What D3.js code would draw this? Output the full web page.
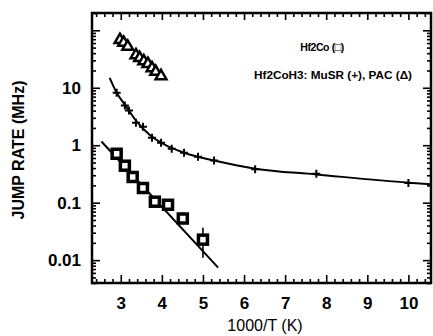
<!DOCTYPE html>
<html>
<head>
<meta charset="utf-8">
<script src="https://cdn.jsdelivr.net/npm/d3@7"></script>
<style>
  body { margin: 0; background: #fff; }
  text { font-family: "Liberation Sans", "DejaVu Sans", Arial, sans-serif; fill: #000; }
</style>
</head>
<body>
<div id="chart"></div>
<script>
// Hf2CoH3 PAC (triangles)
const pacX = [2.98, 3.07, 3.17, 3.37, 3.46, 3.56, 3.66, 3.76, 3.85, 3.98];
const pacY = [68, 61, 52, 37, 33, 29, 26, 22, 19, 16];

// Hf2CoH3 MuSR (+)
const musrX = [2.90, 3.10, 3.20, 3.37, 3.54, 3.76, 3.98, 4.24, 4.54, 4.88, 5.27, 6.27, 7.76, 10.0];
const musrY = [8.2, 4.9, 4.0, 2.47, 2.1, 1.35, 1.1, 0.87, 0.74, 0.63, 0.54, 0.38, 0.32, 0.22];

// MuSR fit curve
const musrFitX = [2.73, 2.90, 3.10, 3.37, 3.70, 4.07, 4.54, 5.27, 6.27, 7.76, 10.0, 10.55];
const musrFitY = [14.9, 8.2, 5.1, 2.67, 1.52, 1.02, 0.74, 0.54, 0.39, 0.31, 0.223, 0.21];

// Hf2Co squares
const hfcoX = [2.90, 3.10, 3.29, 3.54, 3.83, 4.15, 4.51, 5.00];
const hfcoY = [0.71, 0.44, 0.28, 0.18, 0.104, 0.092, 0.053, 0.0227];
// error bars (only where visible)
const errX = [4.51, 5.00];
const errLo = [0.042, 0.011];
const errHi = [0.068, 0.0367];

// Hf2Co Arrhenius line
const hfcoFitX = [2.53, 5.37];
const hfcoFitY = [1.16, 0.0074];

const xMajor = [3, 4, 5, 6, 7, 8, 9, 10];
const yMajor = [0.01, 0.1, 1, 10, 100];
const yLabels = ["0.01", "0.1", "1", "10", ""];

const W = 433, H = 336;
const mLeft = 92, mRight = 431, mTop = 13, mBottom = 283;

const svg = d3.select('#chart').append('svg')
  .attr('width', W).attr('height', H);

const x = d3.scaleLinear().domain([2.3, 10.55]).range([mLeft, mRight]);
const y = d3.scaleLog().domain([0.004, 200]).range([mBottom, mTop]);

const xMinor = d3.range(12, 53).map(d => d / 5).filter(d => !Number.isInteger(d) && d >= 2.3 && d <= 10.55);
const yMinor = [];
[0.001, 0.01, 0.1, 1, 10, 100].forEach(dec => {
  for (let m = 2; m <= 9; m++) {
    const v = dec * m;
    if (v >= 0.004 && v <= 200) yMinor.push(v);
  }
});

function styleAxis(g) {
  g.select('.domain').remove();
  g.selectAll('line').attr('stroke', '#000').attr('stroke-width', 1.6);
  g.selectAll('text').style('font-size', '17px').style('font-weight', 'bold');
}

// bottom
svg.append('g').attr('transform', `translate(0,${mBottom})`)
  .call(d3.axisBottom(x).tickValues(xMajor).tickFormat(d3.format('d')).tickSize(-8).tickPadding(14))
  .call(styleAxis);
svg.append('g').attr('transform', `translate(0,${mBottom})`)
  .call(d3.axisBottom(x).tickValues(xMinor).tickFormat('').tickSize(-4))
  .call(styleAxis);
// top
svg.append('g').attr('transform', `translate(0,${mTop})`)
  .call(d3.axisTop(x).tickValues(xMajor).tickFormat('').tickSize(-7))
  .call(styleAxis);
svg.append('g').attr('transform', `translate(0,${mTop})`)
  .call(d3.axisTop(x).tickValues(xMinor).tickFormat('').tickSize(-4))
  .call(styleAxis);
// left
svg.append('g').attr('transform', `translate(${mLeft},0)`)
  .call(d3.axisLeft(y).tickValues(yMajor).tickFormat((d, i) => yLabels[i]).tickSize(-8).tickPadding(11))
  .call(styleAxis);
svg.append('g').attr('transform', `translate(${mLeft},0)`)
  .call(d3.axisLeft(y).tickValues(yMinor).tickFormat('').tickSize(-4))
  .call(styleAxis);
// right
svg.append('g').attr('transform', `translate(${mRight},0)`)
  .call(d3.axisRight(y).tickValues(yMajor).tickFormat('').tickSize(-8))
  .call(styleAxis);
svg.append('g').attr('transform', `translate(${mRight},0)`)
  .call(d3.axisRight(y).tickValues(yMinor).tickFormat('').tickSize(-4))
  .call(styleAxis);

// frame
svg.append('rect')
  .attr('x', mLeft).attr('y', mTop)
  .attr('width', mRight - mLeft).attr('height', mBottom - mTop)
  .attr('fill', 'none').attr('stroke', '#000').attr('stroke-width', 2.5);

// fit lines
svg.append('path')
  .datum(musrFitX.map((v, i) => [v, musrFitY[i]]))
  .attr('d', d3.line().x(d => x(d[0])).y(d => y(d[1])).curve(d3.curveMonotoneX))
  .attr('fill', 'none').attr('stroke', '#000').attr('stroke-width', 2);
svg.append('path')
  .datum(hfcoFitX.map((v, i) => [v, hfcoFitY[i]]))
  .attr('d', d3.line().x(d => x(d[0])).y(d => y(d[1])))
  .attr('fill', 'none').attr('stroke', '#000').attr('stroke-width', 2);

// error bars
svg.selectAll('.err')
  .data(errX)
  .enter()
  .append('line')
  .attr('class', 'err')
  .attr('x1', d => x(d)).attr('x2', d => x(d))
  .attr('y1', (d, i) => y(errLo[i])).attr('y2', (d, i) => y(errHi[i]))
  .attr('stroke', '#000').attr('stroke-width', 1.6);

// squares
svg.selectAll('.sq')
  .data(hfcoX)
  .enter()
  .append('rect')
  .attr('class', 'sq')
  .attr('x', d => x(d) - 4.5).attr('y', (d, i) => y(hfcoY[i]) - 4.5)
  .attr('width', 9).attr('height', 9)
  .attr('fill', '#fff').attr('stroke', '#000').attr('stroke-width', 3.5);

// plus markers
svg.selectAll('.plus')
  .data(musrX)
  .enter()
  .append('path')
  .attr('class', 'plus')
  .attr('transform', (d, i) => `translate(${x(d)},${y(musrY[i])})`)
  .attr('d', 'M-4,0H4M0,-4V4')
  .attr('stroke', '#000').attr('stroke-width', 2);

// triangles
svg.selectAll('.tri')
  .data(pacX)
  .enter()
  .append('path')
  .attr('class', 'tri')
  .attr('transform', (d, i) => `translate(${x(d)},${y(pacY[i])})`)
  .attr('d', d3.symbol().type(d3.symbolTriangle).size(50))
  .attr('fill', '#fff').attr('stroke', '#000').attr('stroke-width', 2.5);

// legend texts
svg.append('text')
  .attr('x', 322).attr('y', 51)
  .attr('text-anchor', 'middle')
  .style('font-size', '10.5px').style('font-weight', 'bold')
  .style('letter-spacing', '-0.4px')
  .text('Hf2Co (\u25A1)');
svg.append('text')
  .attr('x', 333).attr('y', 79)
  .attr('text-anchor', 'middle')
  .style('font-size', '11px').style('font-weight', 'bold')
  .attr('textLength', 158).attr('lengthAdjust', 'spacingAndGlyphs')
  .text('Hf2CoH3: MuSR (+), PAC (\u0394)');

// axis titles
svg.append('text')
  .attr('transform', 'translate(24,150) rotate(-90)')
  .attr('text-anchor', 'middle')
  .style('font-size', '16px').style('font-weight', 'bold')
  .text('JUMP RATE (MHz)');
svg.append('text')
  .attr('x', 265).attr('y', 331)
  .attr('text-anchor', 'middle')
  .style('font-size', '16px')
  .text('1000/T (K)');
</script>
</body>
</html>
